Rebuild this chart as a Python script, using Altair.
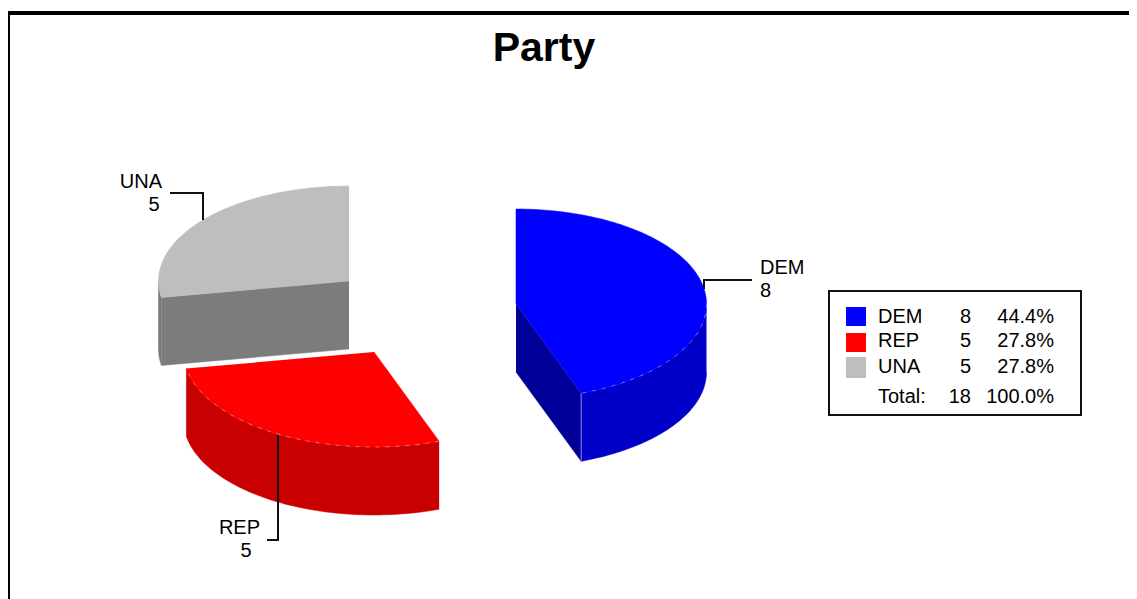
import math
import altair as alt
import pandas as pd

categories = ["DEM", "REP", "UNA"]
counts = [8, 5, 5]
top_colors = ["#0000ff", "#ff0000", "#bebebe"]
wall_colors = ["#0000c8", "#c80000", "#787878"]
face_colors = ["#000098", "#980000", "#7c7c7c"]
title = "Party"
total_label = "Total:"

# layout of the exploded pie (page pixels)
centres = [(516, 304), (374, 352), (349, 281)]
RX, RY, DEPTH = 190.5, 95, 68
W, H = 1121, 591
total = sum(counts)
pcts = [f"{c / total * 100:.1f}%" for c in counts]

X = alt.X("x:Q", axis=None, scale=alt.Scale(domain=[8, 8 + W], nice=False, zero=False))
Y = alt.Y("y:Q", axis=None, scale=alt.Scale(domain=[8 + H, 8], nice=False, zero=False))


def pt(c, deg, drop=0):
    a = math.radians(deg)
    return (c[0] + RX * math.sin(a), c[1] - RY * math.cos(a) + drop)


def arc(c, a0, a1, drop=0):
    n = max(2, int(abs(a1 - a0)) + 1)
    return [pt(c, a0 + (a1 - a0) * k / (n - 1), drop) for k in range(n)]


def poly(points, color):
    df = pd.DataFrame(points, columns=["x", "y"])
    df["i"] = range(len(df))
    return alt.Chart(df).mark_line(fill=color, stroke=color, strokeWidth=0.5).encode(
        x=X, y=Y, order=alt.Order("i:Q"))


def line(points, color="#111111", width=2, dash=None, opacity=1):
    df = pd.DataFrame(points, columns=["x", "y"])
    df["i"] = range(len(df))
    kw = dict(color=color, strokeWidth=width, opacity=opacity)
    if dash:
        kw["strokeDash"] = dash
    return alt.Chart(df).mark_line(**kw).encode(x=X, y=Y, order=alt.Order("i:Q"))


def text(s, x, y, size=20, align="left", weight="normal"):
    df = pd.DataFrame({"x": [x], "y": [y], "t": [s]})
    return alt.Chart(df).mark_text(
        font="Liberation Sans", fontSize=size, align=align, baseline="middle",
        fontWeight=weight, color="#000000").encode(x=X, y=Y, text="t:N")


layers = []
# cumulative angles
starts, a = [], 0.0
for c in counts:
    starts.append((a, a + 360 * c / total))
    a += 360 * c / total

draw_order = [2, 1, 0]
for idx in draw_order:
    c = centres[idx]
    a0, a1 = starts[idx]
    # cut face that looks towards the viewer
    if idx == 0:
        tip = pt(c, a1)
        layers.append(poly([c, tip, (tip[0], tip[1] + DEPTH), (c[0], c[1] + DEPTH)], face_colors[idx]))
    if idx == 2:
        tip = pt(c, a0)
        layers.append(poly([c, tip, (tip[0], tip[1] + DEPTH), (c[0], c[1] + DEPTH)], face_colors[idx]))
    # outer wall, visible from 90 to 270 degrees
    w0, w1 = max(a0, 90), min(a1, 270)
    if w1 > w0:
        layers.append(poly(arc(c, w0, w1) + arc(c, w1, w0, DEPTH), wall_colors[idx]))
    # top
    layers.append(poly([c] + arc(c, a0, a1), top_colors[idx]))
    # light seam on the front of the rim
    if w1 > w0 and idx != 2:
        layers.append(line(arc(c, w0, w1), color="#ffffff", width=1, dash=[4, 6], opacity=0.4))
    if idx == 0:
        tip = pt(c, a1)
        layers.append(line([tip, (tip[0], tip[1] + DEPTH)], color="#ffffff", width=1, opacity=0.5))

# leaders and labels
layers += [
    line([(170, 193), (203, 193), (203, 220)]),
    line([(278, 435), (278, 540), (267, 540)]),
    line([(704, 289), (704, 280), (752, 280)]),
    text("UNA", 162, 182, align="right"),
    text(str(counts[2]), 154, 205, align="center"),
    text("REP", 260, 528, align="right"),
    text(str(counts[1]), 246, 551, align="center"),
    text("DEM", 760, 268),
    text(str(counts[0]), 760, 291),
    text(title, 544, 49, size=41, align="center", weight="bold"),
]

# legend box
box = pd.DataFrame({"x": [829], "x2": [1081], "y": [291], "y2": [415]})
layers.append(alt.Chart(box).mark_rect(fill="#ffffff", stroke="#111111", strokeWidth=2).encode(
    x=X, x2="x2:Q", y=Y, y2="y2:Q"))
rows_y = [317, 341, 367]
swatch_h = [(307, 326), (333, 352), (357, 378)]
for i, cat in enumerate(categories):
    sw = pd.DataFrame({"x": [846], "x2": [866], "y": [swatch_h[i][0]], "y2": [swatch_h[i][1]]})
    layers.append(alt.Chart(sw).mark_rect(fill=top_colors[i]).encode(x=X, x2="x2:Q", y=Y, y2="y2:Q"))
    layers.append(text(cat, 878, rows_y[i]))
    layers.append(text(str(counts[i]), 971, rows_y[i], align="right"))
    layers.append(text(pcts[i], 1054, rows_y[i], align="right"))
layers.append(text(total_label, 878, 397))
layers.append(text(str(total), 971, 397, align="right"))
layers.append(text("100.0%", 1054, 397, align="right"))

# page frame: left and top edges only
layers.append(line([(8, 8 + H), (8, 13), (8 + W, 13)], color="#000000", width=4))

chart = alt.layer(*layers).properties(
    width=W, height=H, padding=0, autosize=alt.AutoSizeParams(type="none"),
    background="#ffffff",
).configure_view(stroke=None)

chart.save("out.html", embed_options={"renderer": "svg", "actions": False})
